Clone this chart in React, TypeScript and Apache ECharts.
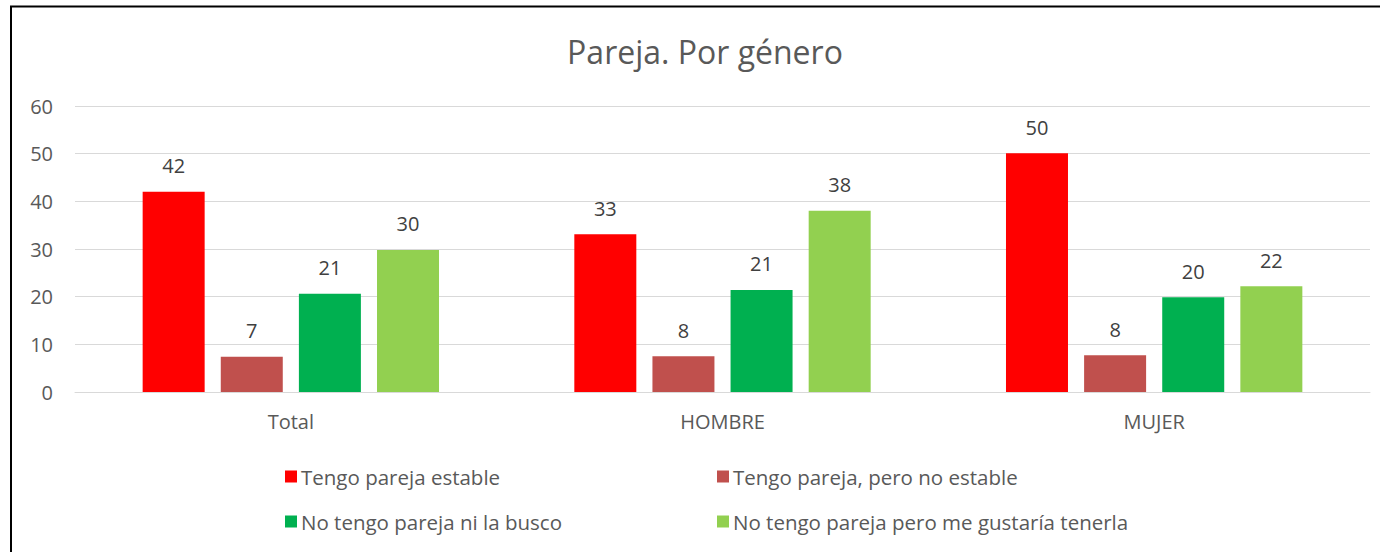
import React, { useEffect, useRef } from "react";
import * as echarts from "echarts";

const categories = ["Total", "HOMBRE", "MUJER"];
const seriesNames = [
  "Tengo pareja estable",
  "Tengo pareja, pero no estable",
  "No tengo pareja ni la busco",
  "No tengo pareja pero me gustaría tenerla",
];
const estable = [42.0, 33.1, 50.1];
const noEstable = [7.4, 7.5, 7.7];
const niLaBusco = [20.6, 21.4, 19.9];
const meGustaria = [29.8, 38.0, 22.2];
const yTicks = { min: 0, max: 60, interval: 10 };
const colors = ["#FF0000", "#C0504D", "#00B050", "#92D050"];

export default function App() {
  const ref = useRef<HTMLDivElement>(null);
  useEffect(() => {
    if (!ref.current) return;
    const chart = echarts.init(ref.current, undefined, { renderer: "svg" });
    const values = [estable, noEstable, niLaBusco, meGustaria];
    const font = "'Open Sans', 'Noto Sans', sans-serif";
    const legendPos = [
      { left: 285, top: 466 },
      { left: 717, top: 466 },
      { left: 285, top: 511 },
      { left: 717, top: 511 },
    ];
    chart.setOption({
      animation: false,
      backgroundColor: "#ffffff",
      title: {
        text: "Pareja. Por género",
        left: 700,
        textAlign: "center",
        top: 30,
        textStyle: { color: "#595959", fontSize: 32, fontWeight: "normal", fontFamily: font },
      },
      legend: seriesNames.map((n, i) => ({
        data: [n],
        left: legendPos[i].left,
        top: legendPos[i].top,
        icon: "rect",
        itemWidth: 12,
        itemHeight: 12,
        itemGap: 4,
        padding: 0,
        selectedMode: false,
        textStyle: { color: "#595959", fontSize: 20.5, fontFamily: font, padding: [0, 0, 0, -1] },
      })),
      grid: { left: 75, right: 10, top: 106, bottom: 160, containLabel: false },
      xAxis: {
        type: "category",
        data: categories,
        axisLine: { lineStyle: { color: "#D9D9D9", width: 1 } },
        axisTick: { show: false },
        axisLabel: { color: "#595959", fontSize: 20, fontFamily: font, margin: 19 },
      },
      yAxis: {
        type: "value",
        min: yTicks.min,
        max: yTicks.max,
        interval: yTicks.interval,
        axisLine: { show: false },
        axisTick: { show: false },
        splitLine: { lineStyle: { color: "#D9D9D9", width: 1 } },
        axisLabel: { color: "#595959", fontSize: 20, fontFamily: font, margin: 22 },
      },
      graphic: [
        { type: "line", shape: { x1: 10, y1: 6.5, x2: 1380, y2: 6.5 }, style: { stroke: "#000", lineWidth: 2 } },
        { type: "line", shape: { x1: 11, y1: 6, x2: 11, y2: 552 }, style: { stroke: "#000", lineWidth: 2 } },
      ],
      series: seriesNames.map((n, i) => ({
        name: n,
        type: "bar",
        data: values[i],
        barWidth: 62,
        barGap: "26%",
        itemStyle: { color: colors[i] },
        label: {
          show: true,
          position: "top",
          distance: 16,
          color: "#404040",
          fontSize: 20,
          fontFamily: font,
          formatter: (p: any) => String(Math.round(p.value)),
        },
      })),
    });
    return () => chart.dispose();
  }, []);
  return (
    <div
      ref={ref}
      style={{ position: "absolute", left: 0, top: 0, width: 1380, height: 552 }}
    />
  );
}
